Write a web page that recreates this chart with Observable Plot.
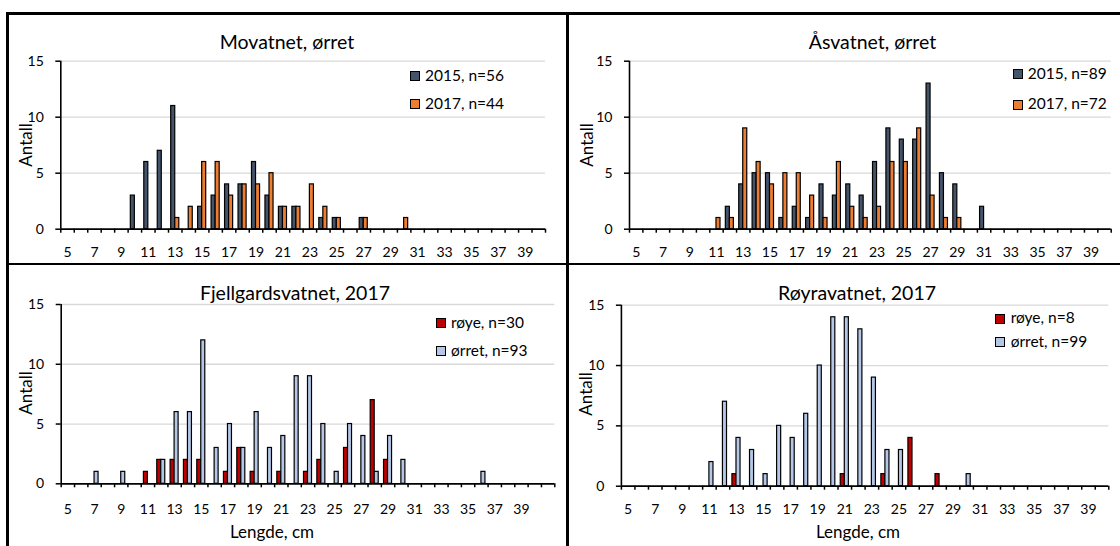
<!DOCTYPE html>
<html><head><meta charset="utf-8">
<script src="https://cdn.jsdelivr.net/npm/d3@7"></script>
<script src="https://cdn.jsdelivr.net/npm/@observablehq/plot@0.6"></script>
<style>
body{margin:0;background:#fff;}
#root{position:relative;width:1120px;height:546px;overflow:hidden;font-family:Lato,sans-serif;color:#000;background:#fff;}
#root svg{position:absolute;overflow:visible;}
.t{position:absolute;white-space:nowrap;line-height:1;}
.sw{position:absolute;width:8px;height:8px;border:1.3px solid #000;}
.ln{position:absolute;background:#000;}
</style></head>
<body><div id="root"></div>
<script>
// ---- categories (length, cm) ----
const lengths5to40 = [5,6,7,8,9,10,11,12,13,14,15,16,17,18,19,20,21,22,23,24,25,26,27,28,29,30,31,32,33,34,35,36,37,38,39,40];
const lengths5to41 = [5,6,7,8,9,10,11,12,13,14,15,16,17,18,19,20,21,22,23,24,25,26,27,28,29,30,31,32,33,34,35,36,37,38,39,40,41];
const xTickLabels = [5,7,9,11,13,15,17,19,21,23,25,27,29,31,33,35,37,39];
const yTicks = [0,5,10,15];

// ---- Movatnet, ørret ----
const movatnet2015 = [0,0,0,0,0,3,6,7,11,0,2,3,4,4,6,3,2,2,0,1,1,0,1,0,0,0,0,0,0,0,0,0,0,0,0,0];
const movatnet2017 = [0,0,0,0,0,0,0,0,1,2,6,6,3,4,4,5,2,2,4,2,1,0,1,0,0,1,0,0,0,0,0,0,0,0,0,0];
// ---- Åsvatnet, ørret ----
const asvatnet2015 = [0,0,0,0,0,0,0,2,4,5,5,1,2,1,4,3,4,3,6,9,8,8,13,5,4,0,2,0,0,0,0,0,0,0,0,0];
const asvatnet2017 = [0,0,0,0,0,0,1,1,9,6,4,5,5,3,1,6,2,1,2,6,6,9,3,1,1,0,0,0,0,0,0,0,0,0,0,0];
// ---- Fjellgardsvatnet, 2017 ----
const fjellRoye  = [0,0,0,0,0,0,1,2,2,2,2,0,1,3,1,0,1,0,1,2,0,3,0,7,2,0,0,0,0,0,0,0,0,0,0,0,0];
const fjellOrret = [0,0,1,0,1,0,0,2,6,6,12,3,5,3,6,3,4,9,9,5,1,5,4,1,4,2,0,0,0,0,0,1,0,0,0,0,0];
// ---- Røyravatnet, 2017 ----
const royraRoye  = [0,0,0,0,0,0,0,0,1,0,0,0,0,0,0,0,1,0,0,1,0,4,0,1,0,0,0,0,0,0,0,0,0,0,0,0];
const royraOrret = [0,0,0,0,0,0,2,7,4,3,1,5,4,6,10,14,14,13,9,3,3,0,0,0,0,1,0,0,0,0,0,0,0,0,0,0];

const C2015 = "#44546A", C2017 = "#ED7D31", CROYE = "#C00000", CORRET = "#B4C7E7";

const panels = [
  {title:"Movatnet, ørret", cats:lengths5to40, series:[{name:"2015, n=56", v:movatnet2015, c:C2015},{name:"2017, n=44", v:movatnet2017, c:C2017}],
   box:{left:0, top:0, w:567, h:264, ml:60.3, mr:22, mt:60.7, mb:35.3}, pad:18,
   titleX:287, titleY:42.5, leg:{sx:410, tx:425, ys:[76,104]}, ylab:[25,145], xlab:null},
  {title:"Åsvatnet, ørret", cats:lengths5to40, series:[{name:"2015, n=89", v:asvatnet2015, c:C2015},{name:"2017, n=72", v:asvatnet2017, c:C2017}],
   box:{left:567, top:0, w:553, h:264, ml:62, mr:9.3, mt:60.7, mb:35.3}, pad:18,
   titleX:872.5, titleY:42.5, leg:{sx:1012.7, tx:1027.7, ys:[73.8,104.5]}, ylab:[585.5,145], xlab:null},
  {title:"Fjellgardsvatnet, 2017", cats:lengths5to41, series:[{name:"røye, n=30", v:fjellRoye, c:CROYE},{name:"ørret, n=93", v:fjellOrret, c:CORRET}],
   box:{left:0, top:264, w:567, h:282, ml:60.7, mr:12.7, mt:40, mb:62.7}, pad:20,
   titleX:295, titleY:293, leg:{sx:435.7, tx:451, ys:[322.8,351.2]}, ylab:[24.5,393], xlab:[272,532]},
  {title:"Røyravatnet, 2017", cats:lengths5to40, series:[{name:"røye, n=8", v:royraRoye, c:CROYE},{name:"ørret, n=99", v:royraOrret, c:CORRET}],
   box:{left:567, top:264, w:553, h:282, ml:53.9, mr:11.7, mt:40.7, mb:60.3}, pad:18,
   titleX:857, titleY:293, leg:{sx:995, tx:1010.7, ys:[318.7,342.2]}, ylab:[585,394], xlab:[858,532]}
];

const root = document.getElementById("root");

function addText(txt, x, y, size, opts = {}) {
  const d = document.createElement("div");
  d.className = "t";
  d.textContent = txt;
  d.style.fontSize = size + "px";
  d.style.left = x + "px";
  d.style.top = (y - 0.53 * size) + "px";
  if (opts.center) d.style.transform = "translateX(-50%)";
  if (opts.rotate) {
    d.style.top = y + "px";
    d.style.transform = "translate(-50%,-50%) rotate(-90deg)";
  }
  root.appendChild(d);
}

panels.forEach(p => {
  const b = p.box;
  const bw = (b.w - b.ml - b.mr) / p.cats.length;
  const x0 = p.cats[0] - 0.5, x1 = p.cats[p.cats.length - 1] + 0.5;
  const boundaries = p.cats.map(c => c - 0.5).concat([x1]);
  const marks = [
    Plot.gridY({ticks: [5,10,15], stroke: "#d9d9d9", strokeOpacity: 1, strokeWidth: 1.3})
  ];
  p.series.forEach((s, si) => {
    const rows = p.cats.map((c, i) => ({len: c, n: s.v[i]})).filter(d => d.n > 0);
    marks.push(Plot.rect(rows, {
      x1: d => d.len - 0.5, x2: d => d.len + 0.5, y1: 0, y2: "n",
      fill: s.c, stroke: "#000", strokeWidth: 1.2,
      insetLeft: si === 0 ? 0.2 * bw : 0.5 * bw,
      insetRight: si === 0 ? 0.5 * bw : 0.2 * bw
    }));
  });
  marks.push(
    Plot.ruleX([x0], {y1: 0, y2: 15, stroke: "#000", strokeWidth: 1.6}),
    Plot.ruleY([0], {stroke: "#000", strokeWidth: 1.8}),
    Plot.axisY({ticks: yTicks, tickSize: 5, tickPadding: 12, strokeWidth: 1.5, fontSize: 14, label: null}),
    Plot.axisX({ticks: boundaries, tickSize: 4, tickFormat: () => "", strokeWidth: 1.5, label: null}),
    Plot.axisX({ticks: xTickLabels, tickSize: 0, tickPadding: p.pad, fontSize: 14, label: null})
  );
  const svg = Plot.plot({
    width: b.w, height: b.h,
    marginLeft: b.ml, marginRight: b.mr, marginTop: b.mt, marginBottom: b.mb,
    x: {type: "linear", domain: [x0, x1]},
    y: {domain: [0, 15]},
    style: {fontFamily: "Lato, sans-serif", fontSize: "14px", color: "#000", background: "transparent", overflow: "visible"},
    marks
  });
  svg.style.left = b.left + "px";
  svg.style.top = b.top + "px";
  root.appendChild(svg);

  addText(p.title, p.titleX, p.titleY, 19.5, {center: true});
  p.series.forEach((s, si) => {
    const sw = document.createElement("div");
    sw.className = "sw";
    sw.style.background = s.c;
    sw.style.left = p.leg.sx + "px";
    sw.style.top = (p.leg.ys[si] - 5) + "px";
    root.appendChild(sw);
    addText(s.name, p.leg.tx, p.leg.ys[si], 15.5);
  });
  addText("Antall", p.ylab[0], p.ylab[1], 17, {rotate: true});
  if (p.xlab) addText("Lengde, cm", p.xlab[0], p.xlab[1], 17, {center: true});
});

// panel borders
[[7, 12.3, 1113, 2.6], [6, 12.3, 2.6, 534], [566.2, 12.3, 2.6, 534], [7, 262.6, 1113, 2.6]].forEach(([l, t, w, h]) => {
  const d = document.createElement("div");
  d.className = "ln";
  d.style.left = l + "px"; d.style.top = t + "px"; d.style.width = w + "px"; d.style.height = h + "px";
  root.appendChild(d);
});
</script></body></html>
